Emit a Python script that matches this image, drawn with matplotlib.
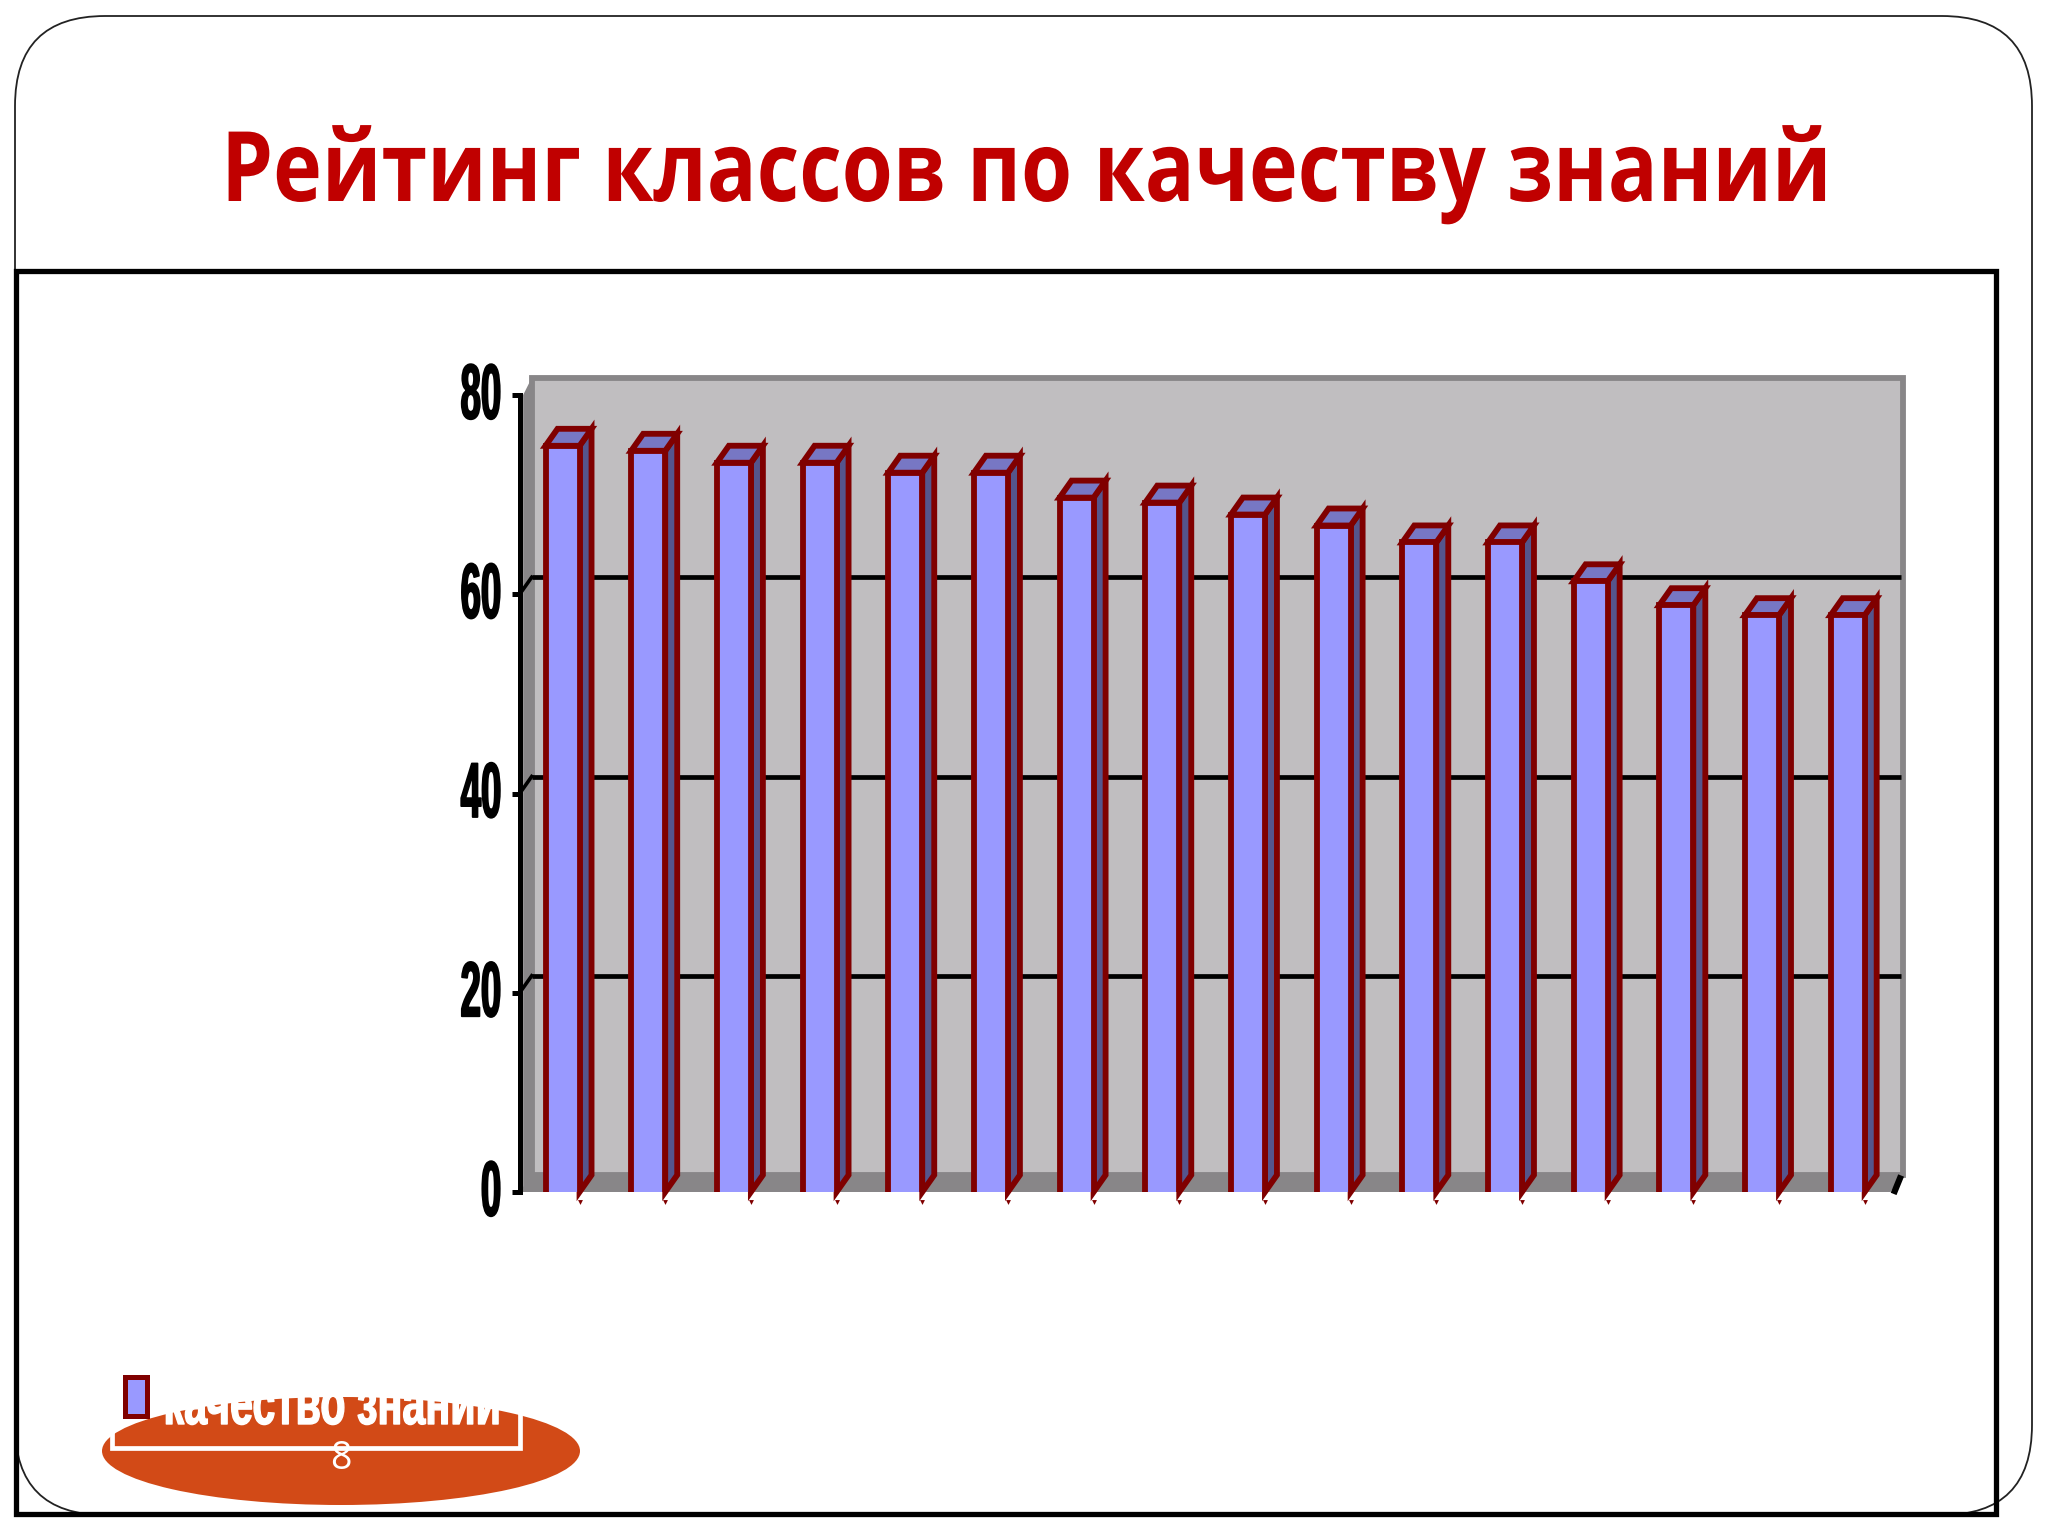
#!/usr/bin/env python3
# -*- coding: utf-8 -*-
import matplotlib
matplotlib.use('Agg')
import matplotlib.pyplot as plt
from matplotlib.patches import Ellipse, FancyBboxPatch, Polygon, Rectangle
from matplotlib.patheffects import AbstractPathEffect
from matplotlib.transforms import Affine2D

title = 'Рейтинг классов по качеству знаний'
series_name = 'качество знаний'
page_number = '8'
quality = [74.9, 74.4, 73.2, 73.2, 72.2, 72.2, 69.7, 69.2, 68.0, 66.9, 65.2, 65.2, 61.3, 58.9, 57.9, 57.9]
y_ticks = [0, 20, 40, 60, 80]

W, H = 2048, 1536
RED = '#800000'
FRONT = '#9999FF'
SIDE = '#55558C'
TOP = '#7777C4'
WALL = '#C0BEC0'
EDGE = '#888688'
BAR_W = 0.397


class Squeeze(AbstractPathEffect):
    # narrow a text horizontally, the slide used a very condensed font
    def __init__(self, sx, anchor=1.0, up=0, stroke=0):
        super().__init__()
        self.sx = sx
        self.anchor = anchor
        self.up = up
        self.stroke = stroke

    def draw_path(self, renderer, gc, tpath, affine, rgbFace=None):
        box = tpath.get_extents()
        x0 = box.x0 + self.anchor * box.width
        squeeze = Affine2D().translate(-x0, 0).scale(self.sx, 1).translate(x0, 0)
        gc0 = renderer.new_gc()
        gc0.copy_properties(gc)
        gc0.set_linewidth(self.stroke)
        gc0.set_foreground(rgbFace)
        renderer.draw_path(gc0, tpath, squeeze + affine + Affine2D().translate(0, self.up), rgbFace)
        gc0.restore()


fig = plt.figure(figsize=(W / 100, H / 100), dpi=100, facecolor='white')

# slide furniture, in pixels
bg = fig.add_axes([0, 0, 1, 1], zorder=0)
bg.set_xlim(0, W)
bg.set_ylim(H, 0)
bg.axis('off')
bg.add_patch(FancyBboxPatch((15, 16), 2017, 1499, boxstyle='round,pad=0,rounding_size=90',
                            fc='white', ec='#222222', lw=1.3))
bg.add_patch(Rectangle((16, 271), 1980, 1243, fc='none', ec='black', lw=3.8))
bg.text(1027, 201, title, color='#C00000', fontsize=70, fontweight='bold',
        family='Open Sans', ha='center', va='baseline', path_effects=[Squeeze(0.85, 0.5)])

# legend on top of the page number oval
bg.add_patch(Ellipse((341, 1451), 478, 108, fc='#D24A17', ec='none'))
bg.plot([112, 112, 520, 520], [1413, 1448, 1448, 1413], color='white', lw=3.4, solid_joinstyle='miter')
bg.text(503, 1424, series_name, color='white', fontsize=45, fontweight='bold', family='Liberation Sans',
        ha='right', va='baseline', path_effects=[Squeeze(0.66, 1.0, stroke=1.0)])
bg.add_patch(Rectangle((125, 1377), 22, 39, fc=FRONT, ec=RED, lw=3.6, zorder=5))
bg.text(341, 1459, page_number, color='white', fontsize=27, family='Open Sans', ha='center', va='center')

# chart, axes is the front plane of the 3d box
x0_px, x1_px, y0_px, y1_px = 519.7, 1890.5, 1192, 395
ax = fig.add_axes([x0_px / W, 1 - y0_px / H, (x1_px - x0_px) / W, (y0_px - y1_px) / H], zorder=1)
ax.patch.set_alpha(0)
n = len(quality)
ax.set_xlim(0, n)
ax.set_ylim(0, 80)
for s in ['top', 'right', 'bottom']:
    ax.spines[s].set_visible(False)
ax.spines['left'].set_linewidth(3.6)
ax.spines['left'].set_zorder(6)

dx = 12 * n / (x1_px - x0_px)
dy = 17 * 80 / (y0_px - y1_px)

# walls and floor
ax.add_patch(Rectangle((dx, dy), n, 80, fc=WALL, ec=EDGE, lw=4.2, zorder=1, clip_on=False))
ax.add_patch(Polygon([(0.04, 0), (dx, dy), (dx, 80 + dy), (0.04, 80)], fc=EDGE, ec='none', zorder=1, clip_on=False))
ax.add_patch(Polygon([(0, 0), (dx, dy), (n + dx, dy), (n, 0)], fc=EDGE, ec='none', zorder=2, clip_on=False))
for t in y_ticks[1:-1]:
    ax.plot([dx, n + dx - 0.02], [t + dy, t + dy], color='black', lw=3.4, zorder=2, clip_on=False, solid_capstyle='butt')
    ax.plot([0, dx], [t, t + dy], color='black', lw=2.6, zorder=5, clip_on=False)
ax.plot([n + 0.05, n + dx - 0.03], [0.1, dy * 0.8], color='black', lw=4.5, zorder=5, clip_on=False)

# bars
centers = [i + 0.5 for i in range(n)]
ax.bar(centers, quality, width=BAR_W, color=FRONT, zorder=4)
for c, v in zip(centers, quality):
    l, r = c - BAR_W / 2, c + BAR_W / 2
    ax.add_patch(Polygon([(r, 0), (r + dx, dy), (r + dx, v + dy), (r, v)], fc=SIDE, ec=RED, lw=4.2,
                         zorder=3, clip_on=False, joinstyle='miter'))
    ax.add_patch(Polygon([(l, v), (l + dx, v + dy), (r + dx, v + dy), (r, v)], fc=TOP, ec=RED, lw=4.2,
                         zorder=3, clip_on=False, joinstyle='miter'))
    ax.plot([l, l, r, r], [0, v, v, 0], color=RED, lw=4.2, zorder=5, clip_on=False,
            solid_joinstyle='miter', solid_capstyle='butt')

# tiny leftover category ticks under the bars
ax.plot([c + BAR_W / 2 for c in centers], [-1.0] * n, ls='none', marker='v', ms=3.5, color=RED, mec='none', clip_on=False)

ax.set_xticks([])
ax.set_yticks(y_ticks)
ax.set_yticklabels([str(t) for t in y_ticks], fontsize=56, fontweight='bold', family='Liberation Sans',
                   path_effects=[Squeeze(0.47, 1.0, up=5, stroke=1.3)])
ax.tick_params(axis='y', length=6, width=3.6, pad=6, color='black')

fig.savefig('out.png', dpi=100)
